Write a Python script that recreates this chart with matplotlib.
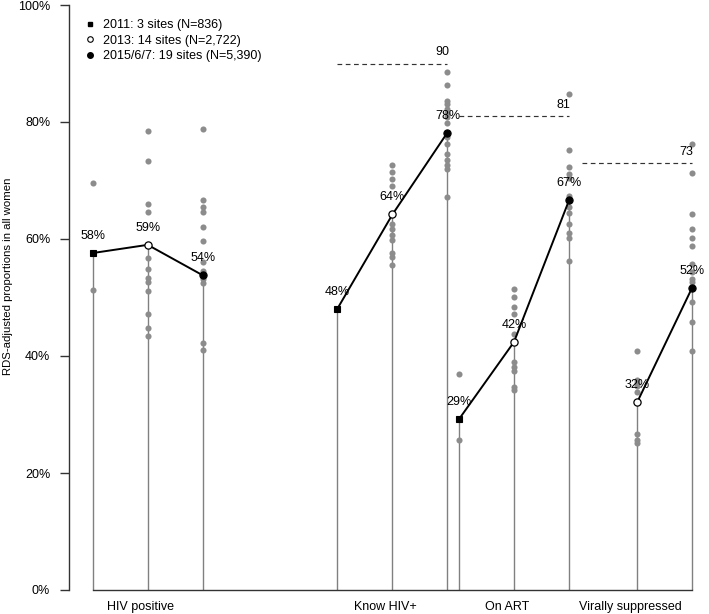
import matplotlib
matplotlib.use("Agg")
import matplotlib.pyplot as plt
from matplotlib.lines import Line2D

plt.rcParams['font.family'] = ['Liberation Sans', 'DejaVu Sans']

# ---------------- data ----------------
categories = ["HIV positive", "Know HIV+", "On ART", "Virally suppressed"]
series_labels = ["2011: 3 sites (N=836)", "2013: 14 sites (N=2,722)", "2015/6/7: 19 sites (N=5,390)"]

# pooled RDS-adjusted estimates (%), None = not measured
val_2011 = [57.6, 48.1, 29.2, None]
val_2013 = [59.0, 64.2, 42.4, 32.1]
val_2015 = [53.8, 78.2, 66.6, 51.7]

# site-level estimates (%)
sites_2011 = [
    [69.5, 51.2],
    [],
    [36.9, 25.7],
    [],
]
sites_2013 = [
    [78.5, 73.3, 66.0, 64.6, 56.8, 54.9, 53.3, 52.7, 51.1, 47.1, 44.8, 43.5],
    [72.6, 71.5, 70.3, 69.1, 62.6, 61.7, 60.7, 59.8, 57.6, 56.9, 55.6],
    [51.5, 50.1, 48.3, 47.1, 43.7, 38.9, 38.2, 37.5, 34.7, 34.2],
    [40.9, 35.9, 35.3, 34.8, 33.9, 26.6, 25.6, 25.1],
]
sites_2015 = [
    [78.8, 66.7, 65.5, 64.6, 62.1, 59.7, 56.1, 54.6, 53.2, 52.4, 42.3, 41.0],
    [88.6, 86.3, 83.6, 83.1, 82.3, 81.6, 80.9, 79.8, 77.5, 76.2, 74.6, 73.5, 72.6, 72.0, 67.2],
    [84.8, 75.2, 72.3, 71.1, 70.5, 67.4, 65.4, 64.4, 62.5, 61.1, 60.2, 56.3],
    [76.2, 71.2, 64.2, 61.7, 60.1, 58.8, 55.7, 54.4, 53.1, 52.6, 49.3, 45.8, 40.9],
]

# 90-90-90 targets
target_cats = ["Know HIV+", "On ART", "Virally suppressed"]
target_vals = [90, 81, 73]

# ---------------- layout ----------------
group_start = [0.0, 4.45, 6.66, 8.9]
year_offset = [0, 1, 2]

W, H = 709, 614
fig = plt.figure(figsize=(W / 100, H / 100), dpi=100)
ax = fig.add_axes([69 / W, 24 / H, (705 - 69) / W, 585 / H])
ax.set_xlim((69 - 92.7) / 55, (705 - 92.7) / 55)
ax.set_ylim(0, 100)

dot_color = '#8c8c8c'
stem_color = '#808080'
axis_color = '#333333'

all_vals = [val_2011, val_2013, val_2015]
all_sites = [sites_2011, sites_2013, sites_2015]

xs_all = []
for ci in range(len(categories)):
    for yi in range(3):
        v = all_vals[yi][ci]
        if v is None:
            continue
        x = group_start[ci] + year_offset[yi]
        xs_all.append(x)
        ax.vlines(x, 0, v, color=stem_color, lw=1.0, zorder=1)

# baseline
ax.plot([min(xs_all), max(xs_all)], [0, 0], color=axis_color, lw=1.0,
        clip_on=False, zorder=2)

# site dots
for ci in range(len(categories)):
    for yi in range(3):
        s = all_sites[yi][ci]
        if not s:
            continue
        x = group_start[ci] + year_offset[yi]
        ax.plot([x] * len(s), s, 'o', color=dot_color, ms=4.4, mec='none', zorder=2)

# connecting lines and markers
marker_styles = [
    dict(marker='s', mfc='black', mec='black', ms=4.6, mew=0.8),
    dict(marker='o', mfc='white', mec='black', ms=5.2, mew=0.9),
    dict(marker='o', mfc='black', mec='black', ms=5.2, mew=0.8),
]
for ci in range(len(categories)):
    xs, ys = [], []
    for yi in range(3):
        v = all_vals[yi][ci]
        if v is None:
            continue
        xs.append(group_start[ci] + year_offset[yi])
        ys.append(v)
    ax.plot(xs, ys, '-', color='black', lw=1.4, zorder=3)
    for yi in range(3):
        v = all_vals[yi][ci]
        if v is None:
            continue
        x = group_start[ci] + year_offset[yi]
        ax.plot([x], [v], ls='none', zorder=4, **marker_styles[yi])
        ax.annotate(f"{v:.0f}%", (x, v), xytext=(0, 12.2), textcoords='offset points',
                    ha='center', va='center', fontsize=9, zorder=5)

# target lines
for cat, t in zip(target_cats, target_vals):
    ci = categories.index(cat)
    x0 = group_start[ci]
    x1 = group_start[ci] + 2
    ax.hlines(t, x0, x1, colors=axis_color, linestyles=(0, (4, 3)), lw=0.85, zorder=2)
    ax.annotate(f"{t}", (x1 - 0.1, t), xytext=(0, 8), textcoords='offset points',
                ha='center', va='center', fontsize=9)

# category labels
for ci, cat in enumerate(categories):
    ax.annotate(cat, (group_start[ci] + 0.87, 0), xytext=(0, -12), textcoords='offset points',
                ha='center', va='center', fontsize=9, annotation_clip=False)

# axes styling
for side in ['top', 'right', 'bottom']:
    ax.spines[side].set_visible(False)
ax.spines['left'].set_bounds(0, 100)
ax.spines['left'].set_color(axis_color)
ax.spines['left'].set_linewidth(1.0)
ax.set_yticks([0, 20, 40, 60, 80, 100])
ax.set_yticklabels(["0%", "20%", "40%", "60%", "80%", "100%"])
ax.tick_params(axis='y', length=6.5, width=1.0, color=axis_color, pad=7, labelsize=9)
ax.set_xticks([])

fig.text(8 / W, 1 - 276.5 / H, "RDS-adjusted proportions in all women", rotation=90,
         ha='center', va='center', fontsize=8.2)

# legend
handles = [
    Line2D([], [], ls='none', marker='s', mfc='black', mec='black', ms=3.5),
    Line2D([], [], ls='none', marker='o', mfc='white', mec='black', ms=4.0, mew=0.8),
    Line2D([], [], ls='none', marker='o', mfc='black', mec='black', ms=4.0),
]
ax.legend(handles, series_labels, loc='upper left', bbox_to_anchor=(85 / W, 1 - 19 / H),
          bbox_transform=fig.transFigure, frameon=False, handlelength=0.8,
          handletextpad=0.62, labelspacing=0.3, borderpad=0, borderaxespad=0, fontsize=9)

fig.savefig("out.png", dpi=100)
